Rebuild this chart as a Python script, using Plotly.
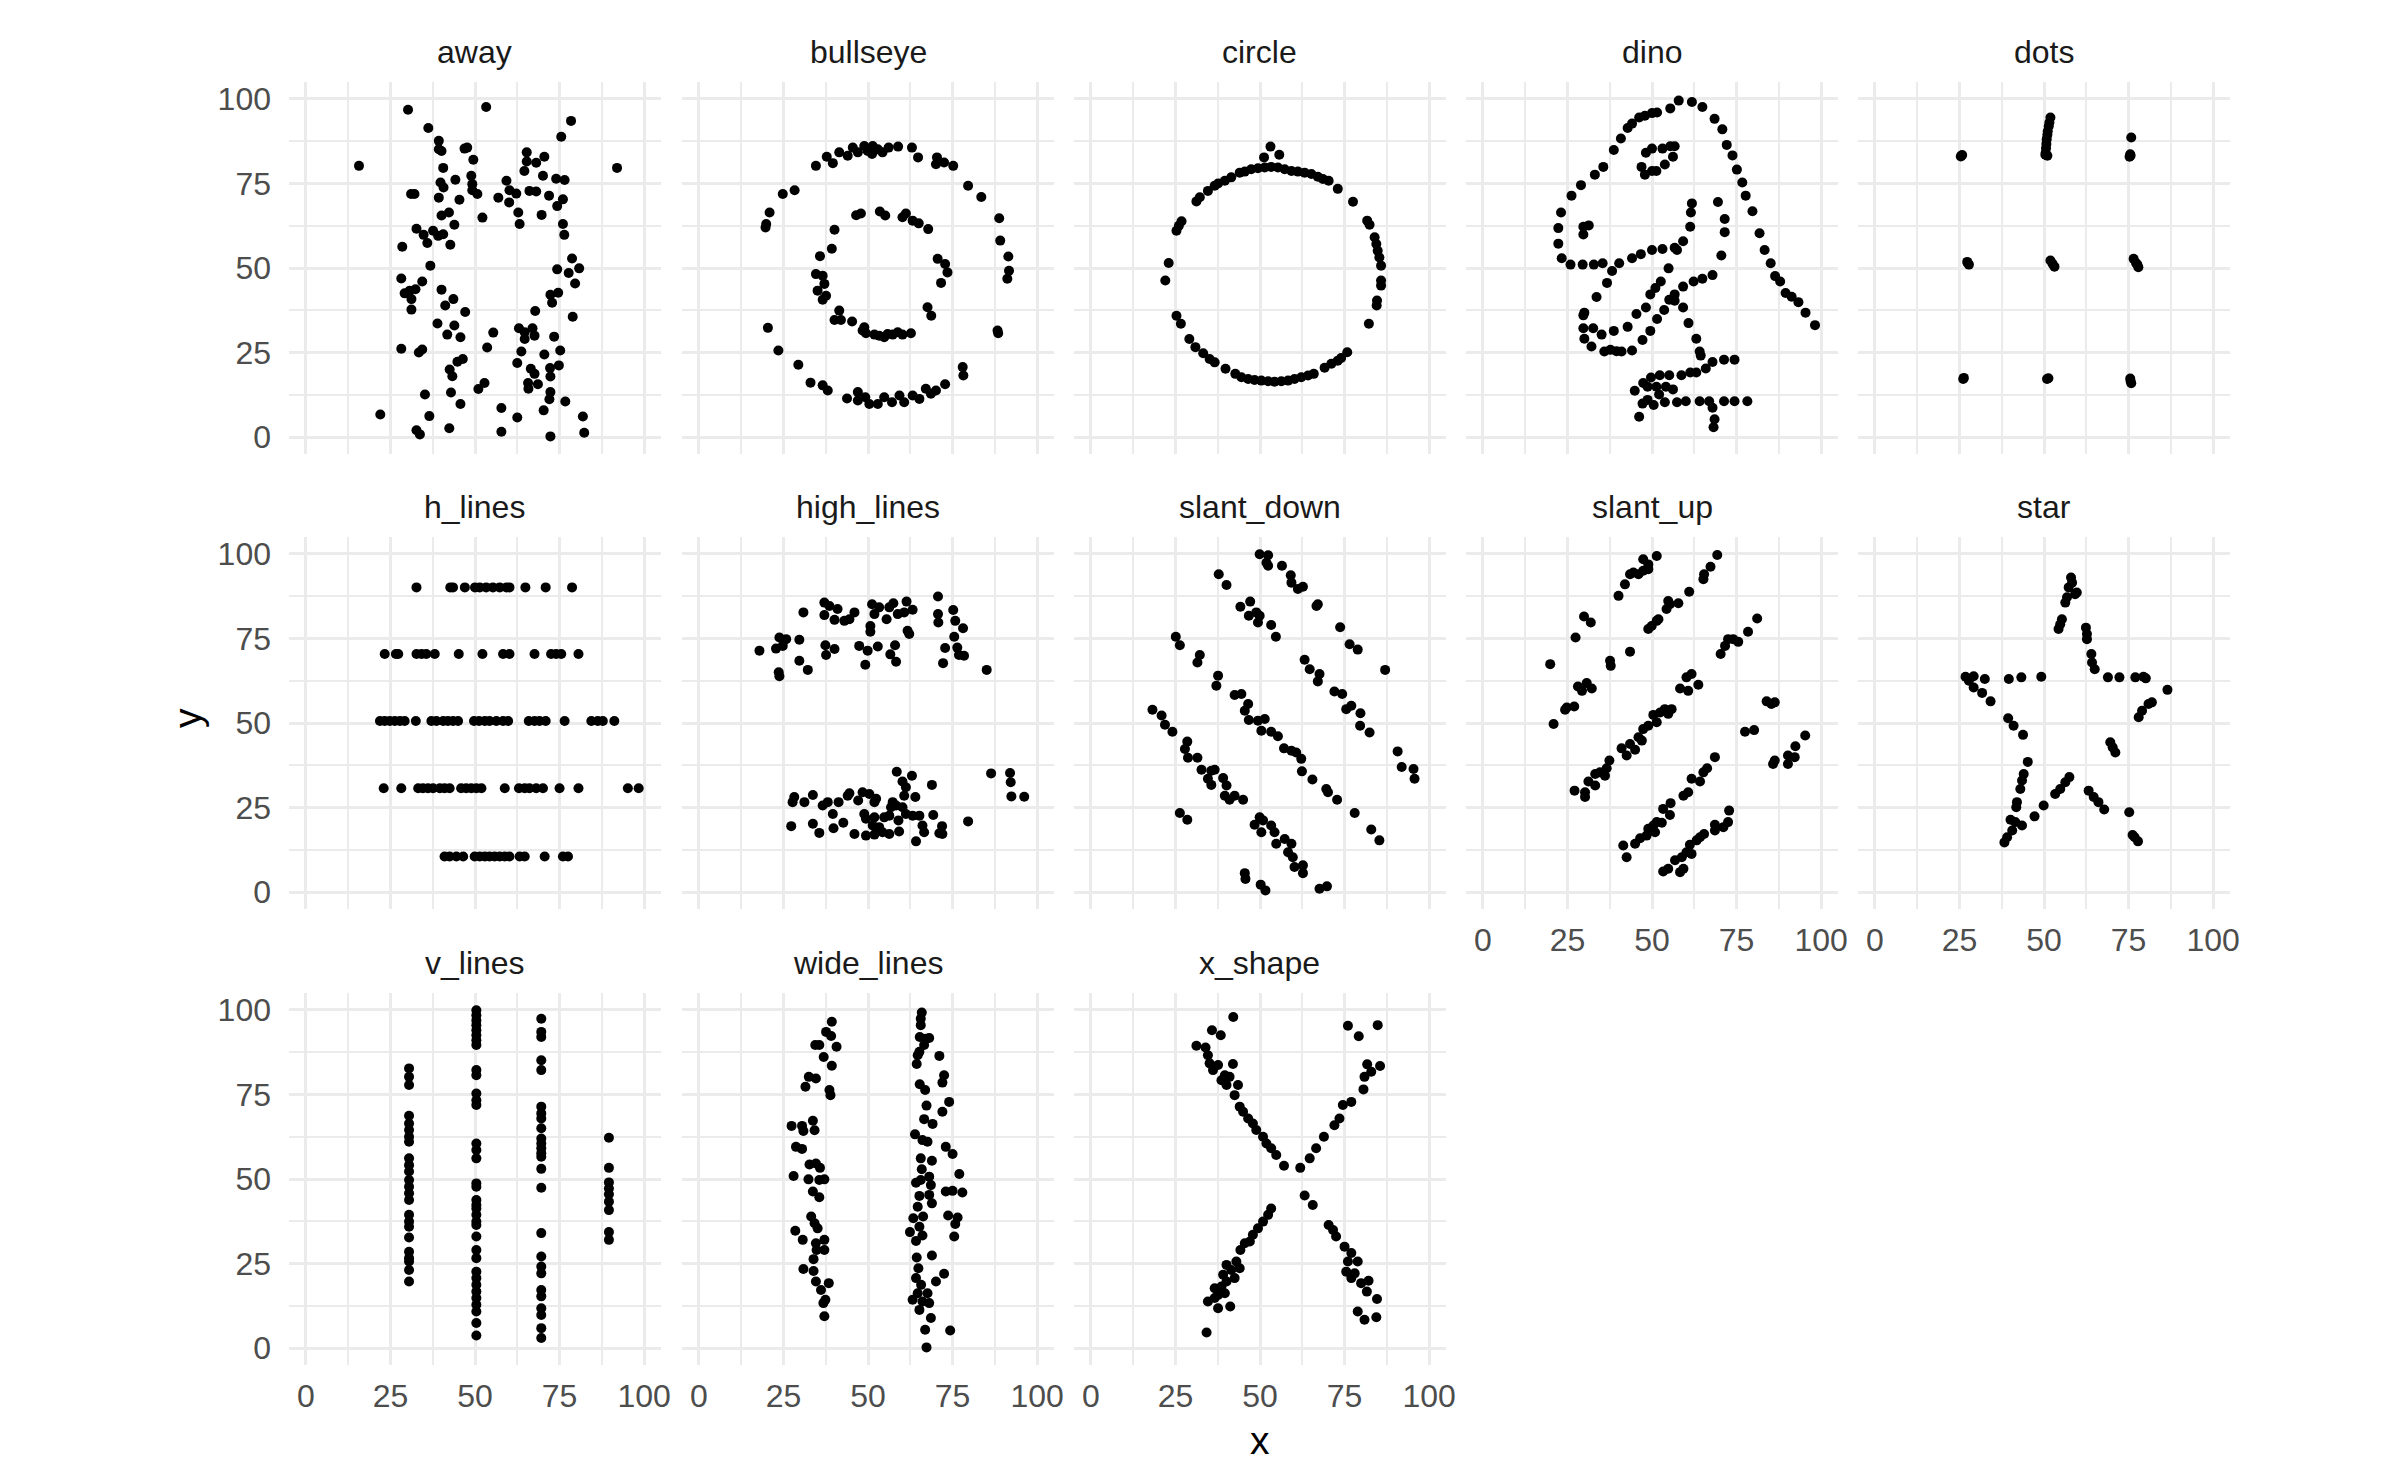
import plotly.graph_objects as go

# ---------------- data ----------------
panel_names = ["away", "bullseye", "circle", "dino", "dots", "h_lines", "high_lines",
               "slant_down", "slant_up", "star", "v_lines", "wide_lines", "x_shape"]
tick_vals = [0, 25, 50, 75, 100]
tick_text = ["0", "25", "50", "75", "100"]

away = [(30.2,96.8),(53.3,97.6),(15.7,80.2),(92.0,79.6),(78.4,93.5),(75.5,88.8),(36.2,91.4),
        (39.3,87.6),(39.3,85.1),(40.1,84.6),(46.9,85.3),(47.7,85.6),(49.5,82.0),(40.6,79.6),
        (44.2,76.1),(39.8,75.3),(40.7,73.8),(48.9,77.3),(49.2,74.8),(49.2,73.0),(50.7,71.9),
        (31.1,71.9),(32.1,71.9),(39.3,70.8),(45.4,70.2),(42.3,66.4),(40.1,65.5),(43.9,62.8),
        (52.2,64.9),(32.7,61.6),(34.8,59.8),(37.6,61.0),(39.1,59.5),(40.6,60.0),(35.9,57.4),
        (42.7,56.9),(28.5,56.3),(36.8,50.7),(28.2,46.9),(34.4,46.0),(29.2,42.5),(30.7,43.3),
        (32.4,43.7),(31.2,40.8),(31.2,37.7),(40.1,43.6),(43.6,40.8),(41.2,38.9),(47.1,37.0),
        (38.9,33.6),(43.9,33.0),(41.8,30.3),(45.7,29.5),(28.2,26.1),(33.4,25.0),(34.4,25.9),
        (44.8,22.3),(46.4,23.1),(42.5,20.0),(43.3,18.0),(35.2,12.6),(42.9,13.2),(45.7,9.8),
        (51.0,14.2),(52.8,16.0),(22.0,6.7),(36.5,6.2),(32.7,2.0),(33.7,0.8),(42.4,2.6),
        (55.4,30.9),(53.6,26.5),(57.8,8.6),(57.8,1.6),(62.5,5.8),(62.5,21.9),(63.7,25.3),
        (63.0,32.2),(64.7,29.0),(67.0,32.2),(67.6,30.0),(64.7,31.0),(67.8,37.3),(66.5,20.2),
        (67.6,18.7),(65.7,16.0),(65.8,14.3),(68.6,15.6),(70.5,24.4),(73.4,29.7),(75.2,25.6),
        (72.2,20.4),(74.8,21.2),(72.3,17.9),(72.3,13.3),(72.0,11.2),(76.7,10.5),(70.3,7.9),
        (72.3,0.2),(81.9,6.1),(82.3,1.3),(78.9,35.6),(72.3,42.1),(74.6,42.7),(72.8,39.7),
        (79.6,45.4),(74.3,49.6),(77.7,48.5),(78.7,52.8),(80.8,49.9),(76.0,63.0),(76.4,59.8),
        (74.3,68.3),(76.0,70.3),(71.9,71.4),(69.7,65.7),(74.0,76.4),(76.5,76.0),(70.1,77.3),
        (64.6,78.7),(65.3,81.5),(65.3,84.2),(68.1,81.1),(70.5,82.9),(59.3,75.8),(60.2,73.0),
        (62.2,72.0),(66.1,72.8),(68.1,72.6),(56.9,70.8),(60.1,69.4),(62.8,66.4),(63.2,63.0)]

bullseye = [(34.6,80.2),(37.8,82.9),(39.6,81.0),(41.5,84.2),(44.0,83.2),(45.5,85.6),(47.0,84.2),
            (48.9,86.1),(49.9,84.6),(51.4,86.1),(51.2,83.7),(52.9,85.1),(54.3,84.2),(56.1,85.6),
            (58.9,85.9),(63.0,85.6),(64.8,82.7),(70.4,82.7),(70.1,80.7),(72.5,81.2),(75.2,80.2),
            (79.6,74.3),(83.5,71.0),(88.8,64.7),(89.1,58.1),(91.5,53.4),(91.7,49.2),(91.2,46.8),
            (88.3,31.5),(88.5,30.7),(78.0,20.7),(78.2,18.2),(72.8,15.6),(70.1,13.8),(68.6,12.8),
            (67.1,14.3),(65.2,11.3),(63.2,12.3),(60.7,10.3),(59.3,12.3),(57.1,10.3),(54.8,11.8),
            (52.9,9.8),(50.4,9.8),(49.2,11.8),(47.0,13.3),(47.0,10.8),(43.8,11.4),(38.1,13.8),
            (36.6,15.3),(33.0,16.1),(29.4,21.4),(23.5,25.6),(20.4,32.3),(19.7,62.0),(19.9,63.0),
            (20.9,66.4),(24.8,71.9),(28.3,73.0),
            (40.1,61.3),(39.3,55.7),(35.8,53.5),(46.5,65.6),(47.9,66.1),(53.5,66.7),(55.1,65.5),
            (60.2,65.0),(61.2,66.1),(63.2,64.0),(65.0,63.2),(67.8,61.5),(70.6,52.7),(72.8,51.2),
            (73.5,48.7),(71.6,45.6),(67.6,38.4),(68.7,35.9),(34.6,48.2),(36.6,47.7),(37.1,45.3),
            (35.1,43.3),(37.6,41.8),(36.6,40.6),(41.5,37.4),(40.1,34.6),(42.0,34.6),(45.3,34.2),
            (48.9,32.5),(49.4,30.7),(51.9,30.3),(54.8,29.5),(55.8,30.5),(58.8,31.0),(60.2,30.3),
            (62.7,30.7),(48.4,31.5),(53.3,30.0),(57.3,30.3)]

circle = [(53.1,85.9),(51.2,82.7),(55.7,83.5),(37.6,75.0),(39.6,75.8),(41.5,76.8),(44.0,78.2),
          (45.5,78.5),(47.4,79.2),(49.4,79.5),(51.4,79.7),(53.3,79.9),(55.3,79.7),(57.3,79.2),
          (59.3,78.7),(61.2,78.5),(63.2,78.2),(65.2,77.8),(67.1,77.0),(68.6,76.3),(70.3,75.8),
          (73.0,73.4),(77.5,69.6),(81.7,64.0),(82.4,62.8),(83.9,59.1),(84.4,57.1),(84.8,55.1),
          (85.3,53.1),(85.8,50.7),(85.8,46.3),(85.8,44.8),(84.6,40.4),(84.5,38.9),(82.2,33.5),
          (75.8,25.1),(74.0,23.4),(73.0,22.6),(71.1,21.7),(69.1,20.5),(65.9,18.7),(64.2,18.2),
          (62.2,17.7),(60.2,17.2),(58.3,16.7),(56.3,16.5),(54.3,16.4),(52.4,16.5),(50.4,16.7),
          (48.4,16.9),(46.5,17.2),(44.5,17.7),(42.7,18.7),(39.8,20.2),(36.6,22.1),(35.1,23.1),
          (33.2,24.8),(30.9,26.6),(29.1,29.0),(26.6,33.5),(25.3,35.9),(22.0,46.3),(23.0,51.5),
          (25.3,61.0),(26.0,62.5),(26.8,63.8),(31.2,69.7),(32.2,70.9),(34.6,72.8),(36.6,74.3)]

dino = [(55.4,97.2),(51.5,96.0),(46.2,94.5),(42.8,91.4),(40.8,88.3),(38.7,84.9),(35.6,79.9),
        (33.1,77.6),(29.0,74.5),(26.2,71.4),(23.1,66.4),(22.3,61.8),(22.3,57.2),(23.3,52.9),
        (25.9,51.0),(29.5,51.0),(32.8,51.0),(35.4,51.4),(40.3,51.4),(44.1,52.9),(46.7,54.1),
        (50.0,55.3),(53.1,55.6),(56.7,56.0),(59.2,57.9),(61.3,62.2),(61.5,66.4),(61.8,69.1),
        (57.4,55.3),(54.9,49.9),(52.6,46.0),(48.2,38.3),(49.5,42.2),(51.0,44.1),(45.4,36.4),
        (42.8,32.6),(38.7,31.4),(35.1,30.3),(32.6,32.2),(30.0,36.8),(33.6,41.4),(36.7,45.6),
        (38.2,49.1),(29.7,36.0),(29.7,32.2),(30.0,29.1),(32.1,26.8),(35.9,25.3),(41.0,25.3),
        (44.1,25.6),(47.2,28.7),(49.5,31.4),(51.5,34.9),(53.6,37.6),(55.1,40.6),(56.7,42.2),
        (59.2,44.5),(62.3,46.0),(64.9,46.8),(67.9,47.9),(70.5,53.7),(71.5,60.6),(71.5,64.5),
        (69.5,69.5),(46.9,79.9),(48.2,84.1),(50.0,85.3),(53.1,85.3),(55.4,86.0),(56.7,86.0),
        (56.2,82.9),(53.8,80.6),(51.3,78.7),(50.0,78.7),(47.9,77.6),(29.7,59.9),(29.7,62.2),
        (31.3,62.6),(57.9,99.5),(61.8,99.1),(64.9,97.6),(68.5,94.1),(70.8,91.0),(72.1,86.4),
        (73.8,83.3),(75.1,79.1),(76.7,75.3),(77.7,71.4),(79.7,66.8),(81.8,60.3),(83.3,55.3),
        (85.1,51.4),(86.4,47.6),(87.9,46.0),(89.5,42.6),(93.3,39.9),(95.4,36.8),(98.2,33.1),
        (56.7,40.3),(59.2,38.3),(60.8,33.7),(63.1,29.1),(64.1,25.3),(64.4,24.1),(74.4,22.9),
        (71.3,22.9),(67.9,22.2),(65.9,20.3),(63.1,19.1),(61.3,19.1),(58.7,18.3),(55.1,18.3),
        (52.3,18.3),(49.7,17.6),(47.4,16.0),(44.9,13.7),(48.7,14.9),(51.3,14.9),(54.1,14.9),
        (56.2,14.1),(52.1,12.6),(48.7,11.0),(47.2,9.9),(46.2,6.0),(50.5,9.5),(53.8,10.3),
        (57.4,10.3),(60.0,10.6),(64.1,10.6),(66.9,10.6),(71.3,10.6),(74.4,10.6),(78.2,10.6),
        (67.9,8.7),(68.5,5.3),(68.2,2.9),(37.7,25.8),(39.5,25.4),(91.3,41.5),(50.0,95.8),
        (47.9,95.0),(44.1,92.7)]

dots = [(25.6,83.2),(25.4,83.0),(25.8,83.4),(51.9,94.5),(51.6,93.0),(51.4,91.9),(51.1,90.4),
        (51.0,89.4),(50.8,88.1),(50.7,86.7),(50.6,85.4),(50.5,84.1),(51.0,83.2),(50.4,83.5),
        (75.8,88.6),(75.5,83.6),(75.3,82.9),(75.6,83.2),(27.3,51.8),(27.8,51.0),(27.5,51.4),
        (51.9,52.2),(52.5,51.3),(53.1,50.4),(76.5,52.7),(77.2,51.5),(77.9,50.2),(77.6,51.0),
        (26.3,17.5),(26.1,17.2),(50.9,17.2),(51.3,17.4),(75.5,17.3),(75.8,15.9),(75.6,16.6)]

h_lines = ([(x, 90.1) for x in [32.7,42.7,43.5,47.0,50.0,51.4,53.3,55.3,57.3,59.3,60.2,64.9,70.9,78.7]] +
           [(x, 70.4) for x in [23.3,26.6,27.3,32.7,34.2,35.6,38.1,45.2,52.2,58.3,60.2,67.6,72.5,74.0,75.5,80.6]] +
           [(x, 50.6) for x in [21.9,23.3,24.8,26.3,27.8,29.2,32.5,37.1,38.6,40.6,42.0,43.5,45.0,49.7,
                                51.2,52.9,54.3,56.3,58.3,59.8,65.9,67.6,69.1,70.9,76.5,84.4,86.3,87.8,91.2]] +
           [(x, 30.7) for x in [23.0,28.2,33.2,34.6,36.1,37.6,39.6,41.0,42.5,45.9,47.4,48.9,50.4,51.9,
                                58.8,63.0,64.7,66.1,68.1,70.1,75.0,80.6,95.2,98.4]] +
           [(x, 10.5) for x in [41.0,42.5,44.5,46.5,49.9,51.4,52.9,54.3,55.8,57.3,58.8,60.2,63.2,64.7,
                                70.6,76.0,77.5]])

high_lines = [(30.9,82.7),(37.1,85.6),(38.6,84.6),(41.0,83.7),(37.1,81.9),(40.1,80.5),(43.0,80.2),
              (44.5,80.7),(46.0,82.7),(51.2,85.1),(53.3,84.2),(51.9,82.2),(55.5,80.7),(57.5,85.4),
              (58.8,82.2),(61.4,85.9),(63.2,83.5),(60.7,82.7),(56.3,84.2),(50.7,78.7),(50.7,77.0),
              (61.7,77.3),(62.2,76.3),(70.7,87.4),(70.7,82.2),(70.8,79.7),(75.2,83.4),(75.8,80.2),
              (78.1,78.0),(75.5,75.5),(72.8,72.2),(76.4,72.3),(76.9,70.1),(78.4,69.9),(72.2,67.7),
              (85.1,65.7),(17.9,71.4),(23.8,75.3),(25.8,74.8),(22.8,72.0),(24.8,72.8),(29.7,74.6),
              (23.6,65.0),(23.8,63.8),(29.7,68.4),(32.2,65.7),(37.4,73.0),(40.1,71.9),(37.6,70.1),
              (47.4,72.8),(49.9,71.4),(52.9,72.6),(49.2,67.2),(58.0,73.0),(56.6,70.3),(58.3,68.1),
              (58.5,35.6),(63.0,34.4),(60.2,32.7),(61.2,31.0),(60.7,28.5),(64.0,28.1),(68.9,31.7),
              (86.4,35.1),(92.0,35.2),(92.2,32.5),(92.4,28.3),(96.2,28.2),(79.6,20.9),(28.2,28.1),
              (27.7,26.6),(31.2,26.6),(33.7,28.7),(27.3,19.5),(33.7,20.2),(35.6,17.5),(39.8,18.9),
              (42.7,20.5),(36.6,25.6),(38.1,26.6),(39.6,23.1),(41.3,26.6),(44.0,28.5),(44.5,29.2),
              (47.1,27.1),(48.4,29.5),(50.4,29.0),(51.9,26.6),(52.4,27.6),(48.9,23.1),(49.4,21.7),
              (51.9,22.1),(54.8,22.1),(56.8,25.1),(58.3,25.6),(59.0,21.2),(59.2,17.9),(46.0,17.2),
              (49.4,16.7),(51.9,17.0),(54.3,17.7),(56.3,17.2),(53.3,19.2),(51.4,19.7),(63.2,22.6),
              (65.2,22.6),(66.1,19.7),(66.6,17.7),(64.2,15.0),(69.3,22.8),(71.9,19.5),(72.0,17.2),
              (71.1,17.4),(57.3,26.6),(60.2,25.1),(61.2,23.1),(56.3,22.6)]

slant_down = [(49.9,99.9),(52.4,99.6),(51.9,97.4),(52.4,96.5),(56.5,96.5),(59.1,93.7),(59.3,91.5),
              (61.2,89.6),(62.7,90.3),(66.7,84.6),(67.1,85.1),(73.7,78.3),(76.5,73.3),(78.9,71.7),
              (87.0,65.7),(37.8,94.0),(40.1,90.8),(44.2,84.4),(47.1,85.9),(46.7,81.7),(48.9,82.7),
              (49.9,81.7),(49.4,79.7),(53.3,79.0),(54.7,75.5),(63.2,68.7),(64.7,65.9),(67.6,64.5),
              (67.1,62.3),(72.0,59.3),(74.3,58.6),(75.5,54.1),(77.0,55.1),(79.7,52.9),(79.6,49.2),
              (82.4,47.2),(90.7,41.6),(91.9,37.0),(95.4,36.4),(95.7,33.5),(25.1,75.5),(26.3,73.0),
              (32.2,70.1),(31.5,67.9),(37.6,64.0),(37.1,61.0),(42.5,58.3),(44.5,58.6),(46.5,55.6),
              (45.5,53.6),(46.7,50.9),(49.4,50.7),(51.4,51.2),(50.4,47.7),(53.3,47.4),(55.3,46.1),
              (57.1,42.5),(59.3,41.8),(60.7,41.3),(62.2,39.4),(62.4,35.7),(65.5,33.3),(69.6,30.5),
              (70.1,29.5),(72.8,27.3),(78.0,23.4),(82.9,18.5),(85.3,15.3),(18.2,53.9),(20.9,52.2),
              (21.9,49.5),(24.1,47.4),(28.5,44.5),(27.8,42.3),(28.7,39.7),(31.5,39.7),(32.7,36.2),
              (35.6,35.9),(36.6,36.2),(34.6,33.5),(35.6,31.7),(39.1,33.7),(40.1,31.5),(39.6,28.5),
              (41.0,27.3),(42.5,28.5),(45.0,27.3),(48.4,19.9),(49.9,22.1),(50.9,21.2),(50.4,17.7),
              (53.3,19.7),(54.3,17.7),(54.8,14.3),(57.3,15.7),(59.3,14.3),(58.3,11.8),(59.7,10.3),
              (60.2,7.4),(62.7,7.9),(62.7,5.6),(67.6,1.0),(69.8,1.7),(26.3,23.4),(28.5,21.4),
              (45.5,5.6),(45.7,3.9),(50.2,2.2),(51.6,0.5)]

slant_up = [(40.1,87.6),(42.0,91.0),(43.5,94.0),(44.5,94.5),(46.0,94.0),(47.4,95.0),(48.9,95.5),
            (47.4,98.4),(48.9,96.9),(51.4,99.4),(29.9,81.5),(31.9,79.7),(27.4,75.3),(19.9,67.4),
            (37.6,68.4),(37.8,66.9),(43.5,71.1),(20.9,49.7),(24.3,53.9),(24.8,54.6),(27.0,54.9),
            (28.1,60.8),(29.3,59.5),(30.7,61.8),(32.2,60.2),(48.9,77.8),(49.9,78.7),(51.4,80.2),
            (51.9,80.7),(54.3,83.7),(55.3,85.1),(54.8,86.1),(57.8,85.4),(61.0,88.8),(65.2,92.5),
            (65.4,94.0),(67.3,96.2),(69.3,99.7),(27.1,30.0),(30.2,28.1),(30.2,29.5),(31.2,32.7),
            (33.2,31.5),(33.2,34.9),(34.6,35.4),(36.1,34.4),(36.6,36.6),(37.4,38.9),(41.0,42.5),
            (42.5,40.4),(43.5,43.8),(45.0,42.1),(46.0,45.8),(47.0,44.8),(47.4,48.2),(48.9,49.2),
            (50.4,52.4),(51.4,50.2),(52.4,53.1),(53.8,54.1),(55.8,54.1),(54.8,52.7),(58.3,60.2),
            (60.2,63.5),(61.7,64.5),(60.7,59.5),(63.7,61.3),(70.3,70.4),(71.6,72.8),(72.5,74.8),
            (74.0,74.8),(75.5,74.0),(78.4,77.0),(81.1,80.9),(83.9,56.4),(85.3,55.6),(86.3,56.1),
            (77.5,47.4),(80.2,47.9),(85.8,37.9),(86.3,38.9),(90.2,37.9),(90.2,40.4),(92.2,39.9),
            (92.4,43.1),(95.3,46.3),(41.5,13.8),(42.5,10.3),(45.0,14.3),(46.5,15.9),(48.4,16.7),
            (48.9,18.7),(50.4,19.7),(51.4,20.7),(52.9,20.5),(50.9,17.7),(53.3,24.6),(55.5,26.3),
            (55.3,22.8),(59.3,28.5),(60.7,29.5),(61.7,33.5),(64.2,32.7),(65.2,35.4),(66.3,36.6),
            (68.6,39.9),(53.3,6.1),(54.8,6.9),(56.8,9.4),(58.3,5.9),(59.3,6.9),(58.8,10.3),
            (60.2,11.8),(61.7,11.3),(61.2,14.0),(63.2,15.3),(64.2,16.2),(65.4,17.2),(68.6,19.9),
            (68.6,18.2),(71.1,19.2),(72.5,20.7),(72.8,24.1)]

star = [(58.0,93.0),(58.3,91.5),(57.3,90.1),(59.7,88.6),(56.8,87.2),(56.3,85.6),(59.2,88.1),
        (55.3,80.7),(54.8,79.2),(54.3,77.8),(62.4,78.2),(62.7,76.3),(62.7,74.8),(64.0,70.4),
        (64.2,67.9),(65.0,65.9),(68.9,63.5),(72.3,63.5),(77.0,63.5),(79.4,63.7),(80.1,63.2),
        (86.5,59.8),(81.9,56.1),(80.9,55.6),(79.0,53.6),(78.0,51.7),(69.6,44.3),(70.3,42.8),
        (71.1,41.3),(75.2,23.6),(76.8,16.2),(77.8,15.0),(76.2,16.9),(63.2,30.0),(64.7,28.1),
        (66.1,26.6),(67.8,24.4),(57.5,34.0),(56.3,32.5),(54.8,30.5),(53.3,29.0),(49.9,25.6),
        (47.2,22.4),(43.5,19.7),(41.5,20.7),(40.6,18.2),(39.1,16.2),(38.3,14.7),(40.1,21.4),
        (41.8,25.1),(42.0,26.6),(43.0,30.5),(43.5,33.0),(44.0,34.9),(45.2,38.5),(43.8,46.5),
        (41.0,49.2),(39.4,51.4),(34.2,56.4),(31.7,58.9),(29.2,60.5),(27.8,62.5),(26.8,63.7),
        (29.2,63.8),(32.5,63.0),(39.6,63.0),(43.3,63.5),(49.2,63.7)]

v_lines = ([(30.5, y) for y in [82.7,80.2,77.8,68.7,66.4,64.5,62.5,61.0,56.1,54.1,52.2,49.7,47.7,
                                45.8,43.8,39.4,37.4,35.9,32.7,28.5,26.6,25.6,23.1,19.7]] +
           [(50.4, y) for y in [99.9,98.4,96.9,95.5,94.0,92.5,91.0,89.6,82.2,80.7,75.3,73.3,71.9,
                                60.5,58.6,56.1,48.7,47.7,43.8,42.3,41.3,39.4,37.4,36.4,33.0,29.0,
                                26.6,22.6,20.7,18.7,16.7,14.8,12.8,10.8,7.4,3.7]] +
           [(69.6, y) for y in [97.4,93.5,92.0,85.1,82.2,71.4,69.4,67.9,65.0,62.0,60.5,59.1,57.6,
                                56.6,53.0,47.4,34.0,27.1,24.1,22.1,17.2,15.3,11.8,9.8,5.9,3.0]] +
           [(89.6, y) for y in [62.2,53.3,49.0,47.2,45.5,43.3,40.8,34.3,32.0]])

wide_lines = [(39.3,96.5),(37.6,93.5),(39.1,92.3),(34.4,89.6),(35.6,89.6),(40.7,89.1),(36.9,86.1),
              (39.3,83.5),(32.5,80.2),(34.6,79.7),(31.5,77.3),(38.6,76.3),(38.9,74.8),(33.7,67.2),
              (27.4,65.7),(30.5,65.7),(30.9,64.2),(34.2,64.4),(28.7,59.5),(30.5,58.9),(32.7,54.3),
              (34.6,54.6),(35.8,53.3),(28.0,50.9),(32.4,49.9),(35.6,49.7),(37.1,49.9),(33.7,46.3),
              (35.6,44.6),(33.2,38.9),(34.2,36.9),(35.1,35.4),(28.5,34.7),(30.7,32.0),(34.6,31.0),
              (37.1,32.0),(37.1,29.0),(34.8,29.0),(33.9,26.3),(30.9,23.4),(33.9,22.8),(34.6,19.7),
              (38.4,19.2),(36.1,17.2),(37.4,14.3),(36.8,13.3),(37.1,9.4),
              (65.9,99.2),(65.6,97.4),(65.6,95.5),(65.3,92.0),(67.1,91.5),(68.1,91.7),(66.6,89.6),
              (65.2,87.6),(64.7,86.6),(64.4,84.0),(71.1,86.4),(72.5,80.7),(72.0,78.5),(65.3,78.0),
              (66.9,76.3),(74.0,72.8),(72.0,69.9),(67.3,71.7),(66.6,67.7),(69.1,66.3),(63.9,63.2),
              (66.1,61.5),(67.6,61.0),(73.0,59.5),(75.0,57.4),(65.6,56.1),(68.9,55.4),(65.9,52.9),
              (68.1,50.7),(68.6,48.2),(64.2,48.9),(65.6,49.7),(77.0,51.5),(73.0,46.3),(75.0,46.5),
              (77.9,46.0),(65.2,45.0),(68.1,45.3),(68.9,42.8),(64.7,41.8),(63.4,38.4),(66.3,38.9),
              (65.2,35.9),(62.4,34.3),(66.1,33.3),(64.2,31.7),(73.7,39.2),(76.5,38.6),(75.8,36.7),
              (75.5,33.0),(64.4,26.8),(68.9,27.4),(64.9,23.6),(64.2,20.7),(65.7,18.7),(64.7,16.2),
              (63.2,14.3),(66.1,13.8),(68.1,13.3),(65.2,11.3),(67.6,16.2),(70.1,19.7),(72.5,22.0),
              (68.6,8.9),(66.9,5.4),(74.3,5.2),(67.3,0.2)]

x_shape = [(42.1,97.9),(35.8,94.0),(38.4,92.5),(31.2,89.4),(33.9,88.9),(34.6,86.6),(35.1,84.2),
           (36.1,82.2),(37.6,83.7),(42.0,84.0),(39.6,80.7),(38.6,79.2),(41.0,80.2),(40.1,77.8),
           (43.5,77.8),(42.5,74.8),(44.0,71.4),(45.0,69.9),(46.5,67.9),(47.9,66.4),(48.9,64.5),
           (50.9,62.5),(51.9,60.5),(53.3,59.1),(54.8,57.1),(57.1,53.9),(61.9,53.3),(64.7,56.1),
           (66.6,59.1),(68.9,62.5),(72.0,65.9),(73.5,67.9),(74.5,71.9),(77.0,72.8),(80.6,76.5),
           (80.9,80.2),(82.9,81.7),(81.7,83.9),(85.5,83.4),(76.0,95.3),(79.2,92.2),(84.8,95.5),
           (53.3,41.3),(52.4,39.4),(50.9,37.4),(49.4,35.4),(47.9,33.5),(47.0,31.5),(45.5,31.0),
           (44.2,29.0),(43.0,25.6),(44.0,23.6),(40.1,24.6),(41.5,23.1),(39.1,21.7),(42.5,20.7),
           (40.1,19.7),(38.6,18.2),(36.6,17.7),(37.6,15.7),(39.6,16.2),(34.6,13.8),(36.6,14.8),
           (37.6,11.8),(41.2,12.3),(34.2,4.6),(63.2,45.1),(65.6,42.3),(70.3,36.4),(71.6,34.9),
           (72.5,33.0),(75.0,30.0),(77.0,28.1),(76.0,25.6),(78.9,25.6),(75.5,22.6),(78.0,22.1),
           (77.0,20.7),(79.9,19.2),(82.1,19.9),(81.6,16.7),(84.6,14.5),(78.9,10.8),(80.9,8.4),
           (84.4,9.1)]

panel_data = [away, bullseye, circle, dino, dots, h_lines, high_lines,
              slant_down, slant_up, star, v_lines, wide_lines, x_shape]

# ---------------- layout geometry ----------------
# The page body has an 8px default margin, so the figure is made 16px smaller and
# page positions are converted to figure positions by subtracting that offset.
PAGE_W, PAGE_H = 2400, 1483
OFF = 8
W, H = PAGE_W - 2 * OFF, PAGE_H - 2 * OFF
PANEL = 372
COL_LEFT = [289, 682, 1074, 1466, 1858]   # page px
ROW_TOP = [82, 537, 993]                   # page px
FONT = "Liberation Sans"
GRID = "#EBEBEB"


def fx(px):
    return (px - OFF) / W


def fy(py):
    return 1 - (py - OFF) / H


fig = go.Figure()
annotations = []
layout_axes = {}

for i, (name, pts) in enumerate(zip(panel_names, panel_data)):
    r, c = divmod(i, 5)
    sfx = "" if i == 0 else str(i + 1)
    left, top = COL_LEFT[c], ROW_TOP[r]
    xd = [fx(left), fx(left + PANEL)]
    yd = [fy(top + PANEL), fy(top)]
    bottom_of_col = (r == 2) or (c >= 3 and r == 1)
    common = dict(range=[-5, 105], tickmode="array", tickvals=tick_vals, ticktext=tick_text,
                  showgrid=True, gridcolor=GRID, gridwidth=3.2, zeroline=False, showline=False,
                  ticks="", fixedrange=True, automargin=False,
                  minor=dict(tickvals=[12.5, 37.5, 62.5, 87.5], showgrid=True,
                             gridcolor=GRID, gridwidth=1.6, ticks=""),
                  tickfont=dict(family=FONT, size=32, color="#4D4D4D"))
    layout_axes["xaxis" + sfx] = dict(common, domain=xd, anchor="y" + sfx,
                                      showticklabels=bottom_of_col, ticklabelstandoff=9)
    layout_axes["yaxis" + sfx] = dict(common, domain=yd, anchor="x" + sfx,
                                      showticklabels=(c == 0), ticklabelstandoff=17)
    fig.add_trace(go.Scatter(x=[p[0] for p in pts], y=[p[1] for p in pts], mode="markers",
                             marker=dict(color="black", size=10, line=dict(width=0)),
                             xaxis="x" + sfx, yaxis="y" + sfx, showlegend=False,
                             hoverinfo="skip"))
    annotations.append(dict(text=name, xref="paper", yref="paper",
                            x=(xd[0] + xd[1]) / 2, y=yd[1], yshift=30,
                            xanchor="center", yanchor="middle", showarrow=False,
                            font=dict(family=FONT, size=32, color="#1A1A1A")))

annotations.append(dict(text="x", xref="paper", yref="paper", x=fx(1260), y=fy(1440),
                        xanchor="center", yanchor="middle", showarrow=False,
                        font=dict(family=FONT, size=39, color="black")))
annotations.append(dict(text="y", xref="paper", yref="paper", x=fx(187), y=fy(718),
                        xanchor="center", yanchor="middle", showarrow=False, textangle=-90,
                        font=dict(family=FONT, size=39, color="black")))

fig.update_layout(width=W, height=H, margin=dict(l=0, r=0, t=0, b=0),
                  paper_bgcolor="white", plot_bgcolor="white",
                  annotations=annotations, **layout_axes)

fig.write_html("out.html", config={"displayModeBar": False})
